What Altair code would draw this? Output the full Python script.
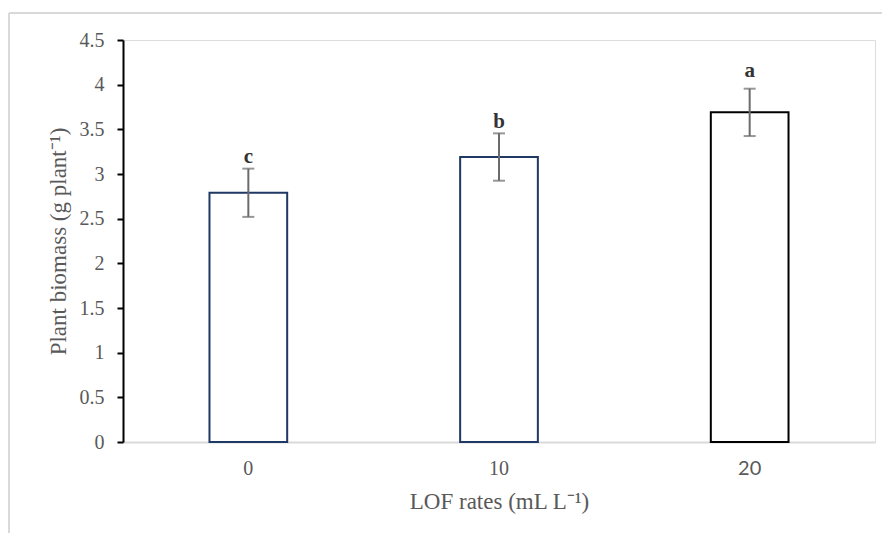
import altair as alt
import pandas as pd

rates = ["0", "10", "20"]
biomass = [2.79, 3.19, 3.69]
err = [0.27, 0.265, 0.265]
letters = ["c", "b", "a"]
letter_pos = [3.12, 3.51, 4.09]
y_ticks = [0, 0.5, 1, 1.5, 2, 2.5, 3, 3.5, 4, 4.5]

df = pd.DataFrame({
    "rate": rates,
    "mean": biomass,
    "lo": [m - e for m, e in zip(biomass, err)],
    "hi": [m + e for m, e in zip(biomass, err)],
    "letter": letters,
    "lpos": letter_pos,
})

SERIF = "Liberation Serif"
GRAY = "#595959"

xenc = alt.X(
    "rate:N", sort=rates,
    scale=alt.Scale(paddingInner=0.69, paddingOuter=0.345),
    axis=alt.Axis(
        title="LOF rates (mL L\u207b\u00b9)", labelAngle=0, ticks=False,
        domainColor="#d9d9d9", domainWidth=2,
        labelFont=alt.expr("datum.label == '20' ? 'Lato' : 'Liberation Serif'"),
        labelFontSize=20, labelColor=GRAY, labelPadding=16,
        titleFont=SERIF, titleFontSize=23, titleFontWeight="normal",
        titleColor=GRAY, titlePadding=12,
    ),
)
yscale = alt.Scale(domain=[0, 4.5], nice=False)

bars = alt.Chart(df).mark_bar(fill="white", strokeWidth=2).encode(
    x=xenc,
    y=alt.Y("mean:Q", scale=yscale, axis=alt.Axis(
        title="Plant biomass (g plant\u207b\u00b9)", values=y_ticks, format="~g",
        grid=False, domainColor="black", domainWidth=2,
        tickColor="black", tickWidth=2, tickSize=6,
        labelFont=SERIF, labelFontSize=20, labelColor=GRAY, labelPadding=13,
        titleFont=SERIF, titleFontSize=23, titleFontWeight="normal",
        titleColor=GRAY, titlePadding=9,
    )),
    stroke=alt.condition("datum.rate == '20'", alt.value("black"), alt.value("#1f3864")),
)

ebar = alt.Chart(df).mark_rule(color="#6b6b6b", strokeWidth=2).encode(
    x=alt.X("rate:N", sort=rates), y=alt.Y("lo:Q", scale=yscale), y2="hi:Q"
)
cap_lo = alt.Chart(df).mark_tick(color="#6b6b6b", thickness=2, size=12, orient="horizontal").encode(
    x=alt.X("rate:N", sort=rates), y=alt.Y("lo:Q", scale=yscale)
)
cap_hi = alt.Chart(df).mark_tick(color="#6b6b6b", thickness=2, size=12, orient="horizontal").encode(
    x=alt.X("rate:N", sort=rates), y=alt.Y("hi:Q", scale=yscale)
)
text = alt.Chart(df).mark_text(
    font=SERIF, fontSize=21, fontWeight="bold", color="#333333", baseline="alphabetic"
).encode(
    x=alt.X("rate:N", sort=rates), y=alt.Y("lpos:Q", scale=yscale), text="letter:N"
)

frame_df = pd.DataFrame({"k": [0]})
frame_top = alt.Chart(frame_df).mark_rule(color="#d9d9d9", strokeWidth=2).encode(
    x=alt.value(-114), x2=alt.value(766), y=alt.value(-27)
)
frame_left = alt.Chart(frame_df).mark_rule(color="#d9d9d9", strokeWidth=2).encode(
    x=alt.value(-114), y=alt.value(-27), y2=alt.value(501)
)

chart = alt.layer(frame_top, frame_left, bars, ebar, cap_lo, cap_hi, text).properties(
    width=752, height=402,
    autosize=alt.AutoSizeParams(type="none"),
    padding={"left": 115, "top": 32, "right": 7, "bottom": 91},
).configure_view(stroke=None).configure(background="white")

chart.save("out.html", embed_options={"renderer": "svg", "actions": False})
